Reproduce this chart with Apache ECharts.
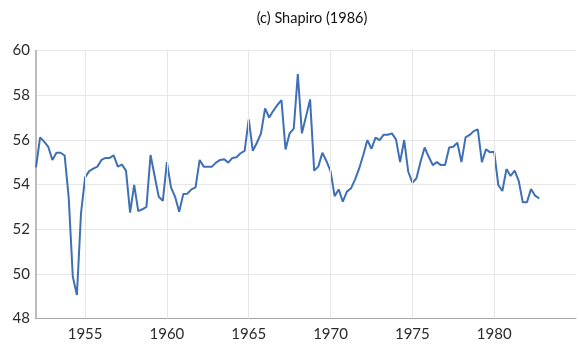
<!DOCTYPE html>
<html>
<head>
<meta charset="utf-8">
<script src="https://cdn.jsdelivr.net/npm/echarts@6/dist/echarts.min.js"></script>
<style>
  html, body { margin: 0; padding: 0; background: #ffffff; }
  #chart { width: 579px; height: 345px; }
</style>
</head>
<body>
<div id="chart"></div>
<script>
// Quarterly series, first observation 1952 Q1
const startYear = 1952;
const perYear = 4;
const shapiroValues = [
  54.77, 56.11, 55.92, 55.69, 55.10, 55.42, 55.42, 55.30,
  53.40, 49.87, 49.05, 52.71, 54.32, 54.60, 54.71, 54.80,
  55.10, 55.19, 55.19, 55.30, 54.80, 54.89, 54.62, 52.74,
  53.98, 52.81, 52.89, 53.00, 55.32, 54.38, 53.45, 53.27,
  55.00, 53.87, 53.45, 52.78, 53.57, 53.59, 53.78, 53.87,
  55.10, 54.80, 54.80, 54.80, 54.98, 55.10, 55.13, 54.98,
  55.19, 55.22, 55.40, 55.51, 56.92, 55.51, 55.87, 56.29,
  57.41, 57.00, 57.30, 57.56, 57.78, 55.57, 56.29, 56.50,
  58.95, 56.29, 57.04, 57.81, 54.62, 54.80, 55.42, 55.05,
  54.60, 53.48, 53.78, 53.23, 53.68, 53.83, 54.23, 54.72,
  55.32, 55.99, 55.60, 56.10, 55.99, 56.23, 56.23, 56.29,
  56.02, 55.00, 55.99, 54.57, 54.08, 54.28, 55.02, 55.66,
  55.24, 54.87, 55.00, 54.87, 54.87, 55.66, 55.69, 55.87,
  55.00, 56.11, 56.22, 56.39, 56.47, 55.00, 55.58, 55.44,
  55.47, 53.98, 53.71, 54.69, 54.38, 54.62, 54.16, 53.20,
  53.20, 53.80, 53.50, 53.38
];
const xTickYears = [1955, 1960, 1965, 1970, 1975, 1980];
const xRange = [1952, 1985];
const yRange = [48, 60];
const yStep = 2;
const titleText = '(c) Shapiro (1986)';

// pair each quarterly value with its fractional year
const points = shapiroValues.map((v, i) => [startYear + i / perYear, v]);

const font = 'Lato, "Open Sans", sans-serif';
const chart = echarts.init(document.getElementById('chart'), null, { renderer: 'canvas' });
chart.setOption({
  animation: false,
  backgroundColor: '#ffffff',
  title: {
    text: titleText,
    left: 307,
    top: 6,
    textAlign: 'center',
    textStyle: { fontFamily: font, fontSize: 14.5, fontWeight: 'normal', color: '#111' }
  },
  grid: { left: 36, right: 0, top: 50.5, bottom: 26.5, containLabel: false },
  xAxis: {
    type: 'value',
    min: xRange[0],
    max: xRange[1],
    interval: 1,
    axisLine: { show: true, lineStyle: { color: '#a6a6a6', width: 1.2 } },
    axisTick: { show: false },
    splitLine: { show: false },
    axisLabel: {
      margin: 8,
      fontFamily: font,
      fontSize: 15,
      color: '#2b2b2b',
      formatter: v => (xTickYears.includes(v) ? String(v) : '')
    }
  },
  yAxis: {
    type: 'value',
    min: yRange[0],
    max: yRange[1],
    interval: yStep,
    axisLine: { show: true, lineStyle: { color: '#a6a6a6', width: 1.5 } },
    axisTick: { show: false },
    splitLine: { show: true, lineStyle: { color: '#e6e6e6', width: 1 } },
    axisLabel: { margin: 6, fontFamily: font, fontSize: 15, color: '#2b2b2b' }
  },
  series: [{
    type: 'line',
    data: points,
    showSymbol: false,
    smooth: false,
    lineStyle: { color: '#3f6fb5', width: 2 },
    itemStyle: { color: '#3f6fb5' },
    markLine: {
      silent: true,
      symbol: ['none', 'none'],
      label: { show: false },
      lineStyle: { color: '#e6e6e6', width: 1, type: 'solid' },
      data: xTickYears.map(y => ({ xAxis: y }))
    },
    z: 3
  }]
});
</script>
</body>
</html>
